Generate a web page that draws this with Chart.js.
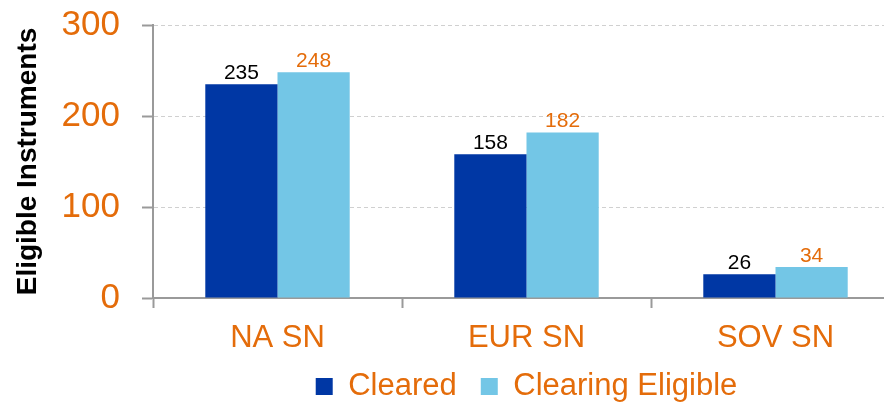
<!DOCTYPE html>
<html>
<head>
<meta charset="utf-8">
<script src="https://cdn.jsdelivr.net/npm/chart.js@4"></script>
<style>
    html, body { margin: 0; padding: 0; background: #fff; overflow: hidden; }
    #wrap { width: 900px; height: 412px; }
</style>
</head>
<body>
<div id="wrap"><canvas id="eligibleChart"></canvas></div>
<script>
const categories = ['NA SN', 'EUR SN', 'SOV SN'];
const cleared = [235, 158, 26];
const clearingEligible = [248, 182, 34];
const yTicks = [0, 100, 200, 300];

const orange = '#E46C0A';
const axisGray = '#9a9a9a';
const font = 'Liberation Sans, Arial, sans-serif';

// value labels above each bar
const barLabels = {
    id: 'barLabels',
    afterDatasetsDraw(chart) {
        const ctx = chart.ctx;
        ctx.save();
        ctx.font = '21px ' + font;
        ctx.textAlign = 'center';
        ctx.textBaseline = 'alphabetic';
        chart.data.datasets.forEach((ds, i) => {
            ctx.fillStyle = ds.labelColor;
            chart.getDatasetMeta(i).data.forEach((bar, j) => {
                ctx.fillText(ds.data[j], bar.x, bar.y - 5);
            });
        });
        ctx.restore();
    }
};

const ctx = document.getElementById('eligibleChart').getContext('2d');

new Chart(ctx, {
    type: 'bar',
    data: {
        labels: categories,
        datasets: [
            {
                label: 'Cleared',
                data: cleared,
                backgroundColor: '#0037A4',
                labelColor: '#000000',
                categoryPercentage: 0.58,
                barPercentage: 1
            },
            {
                label: 'Clearing Eligible',
                data: clearingEligible,
                backgroundColor: '#73C6E6',
                labelColor: orange,
                categoryPercentage: 0.58,
                barPercentage: 1
            }
        ]
    },
    options: {
        responsive: true,
        maintainAspectRatio: false,
        animation: false,
        layout: { padding: { top: 25, right: 0, left: 0, bottom: 0 } },
        scales: {
            x: {
                afterFit: (scale) => { scale.height = 49; },
                ticks: {
                    color: orange,
                    padding: 12,
                    font: { family: font, size: 31 }
                },
                grid: {
                    drawOnChartArea: false,
                    drawTicks: true,
                    tickLength: 10,
                    tickColor: axisGray,
                    tickWidth: 2
                },
                border: { display: true, color: axisGray, width: 2 }
            },
            y: {
                min: 0,
                max: 300,
                afterFit: (scale) => {
                    scale.width = 153;
                    scale.paddingTop = 0;
                    scale.paddingBottom = 0;
                },
                afterBuildTicks: (scale) => {
                    scale.ticks = yTicks.map(v => ({ value: v }));
                },
                ticks: {
                    color: orange,
                    padding: 22,
                    font: { family: font, size: 35 }
                },
                grid: {
                    color: (c) => c.tick && c.tick.value === 0 ? 'rgba(0,0,0,0)' : '#d0d0d0',
                    lineWidth: 1,
                    tickLength: 11,
                    tickColor: axisGray,
                    tickWidth: 2,
                    tickBorderDash: []
                },
                border: { display: true, color: axisGray, width: 2, dash: [4, 3] },
                title: {
                    display: true,
                    text: 'Eligible Instruments',
                    color: '#000000',
                    padding: { top: 11, bottom: 0 },
                    font: { family: font, size: 28, weight: 'bold' }
                }
            }
        },
        plugins: {
            legend: {
                position: 'bottom',
                fullSize: false,
                labels: {
                    color: orange,
                    boxWidth: 17,
                    boxHeight: 17,
                    padding: 24,
                    font: { family: font, size: 31 }
                }
            },
            tooltip: { enabled: false }
        }
    },
    plugins: [barLabels]
});
</script>
</body>
</html>
